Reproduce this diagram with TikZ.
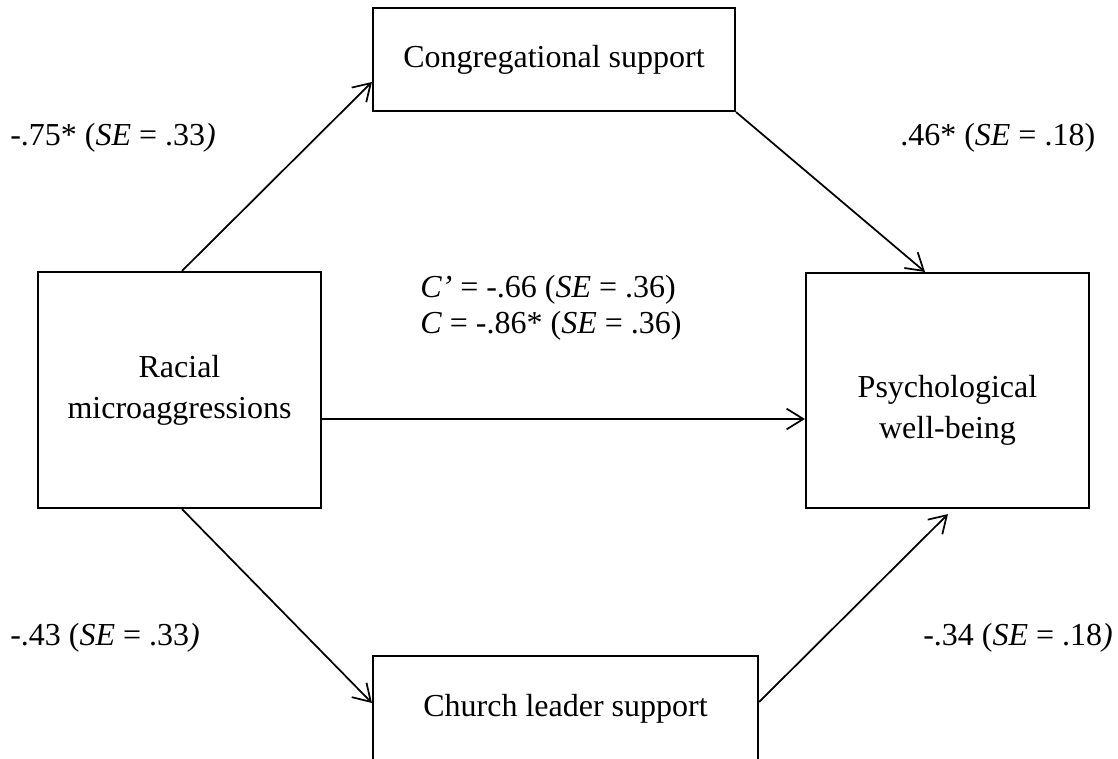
\documentclass[tikz,border=0pt]{standalone}
\usepackage{fontspec}
\setmainfont{Liberation Serif}
\usetikzlibrary{arrows.meta,calc}
\tikzset{
  box/.style={draw, line width=1.6pt, inner sep=0pt, align=center, font=\fontsize{24}{30.75}\selectfont},
  txt/.style={inner sep=0pt, align=center, font=\fontsize{24}{30.75}\selectfont},
  lab/.style={inner sep=0pt, anchor=base west, font=\fontsize{24}{30.75}\selectfont},
  arr/.style={line width=1.3pt, -{Straight Barb[length=12.5pt,width=15.5pt,line width=1.3pt]}}
}
\begin{document}
\begin{tikzpicture}[x=0.75pt, y=-0.75pt]
\useasboundingbox (0,0) rectangle (1118,758);
\clip (0,0) rectangle (1118,758);
% boxes (sizes in pt = px * 0.75)
\node[box, minimum width=271.5pt, minimum height=77.25pt] (cong) at (554,59.5) {Congregational support};
\node[box, minimum width=212.25pt, minimum height=177pt] (rac) at (179.5,390) {Racial\\microaggressions};
\node[box, minimum width=212.25pt, minimum height=176.25pt] (psy) at (947.5,390.5) {};
\node[txt] (psytxt) at ($(psy.center)+(0,20)$) {Psychological\\well-being};
\node[box, minimum width=288.75pt, minimum height=79.5pt] (church) at (565.5,709) {Church leader support};
% connectors
\draw[arr] ($(rac.north)+(2.5,0)$) -- ($(cong.west)+(0,22.5)$);
\draw[arr] (cong.south east) -- ($(psy.north)+(-22.5,0)$);
\draw[arr] ($(rac.east)+(0,29)$) -- ($(psy.west)+(0,28.5)$);
\draw[arr] ($(rac.south)+(2.5,0)$) -- ($(church.west)+(0,-6)$);
\draw[arr] ($(church.east)+(0,-7)$) -- ($(psy.south)+(0.5,5)$);
% labels
\node[lab] (l1) at (10,145) {-.75* (\textit{SE} = .33\textit{)}};
\node[lab] (l2) at (900,145) {.46* (\textit{SE} = .18)};
\node[lab] (l3) at (420,297) {\textit{C’} = -.66 (\textit{SE} = .36)};
\node[lab] (l4) at (420,333) {\textit{C} = -.86* (\textit{SE} = .36)};
\node[lab] (l5) at (10,645) {-.43 (\textit{SE} = .33\textit{)}};
\node[lab] (l6) at (923,645) {-.34 (\textit{SE} = .18\textit{)}};
\end{tikzpicture}
\end{document}
